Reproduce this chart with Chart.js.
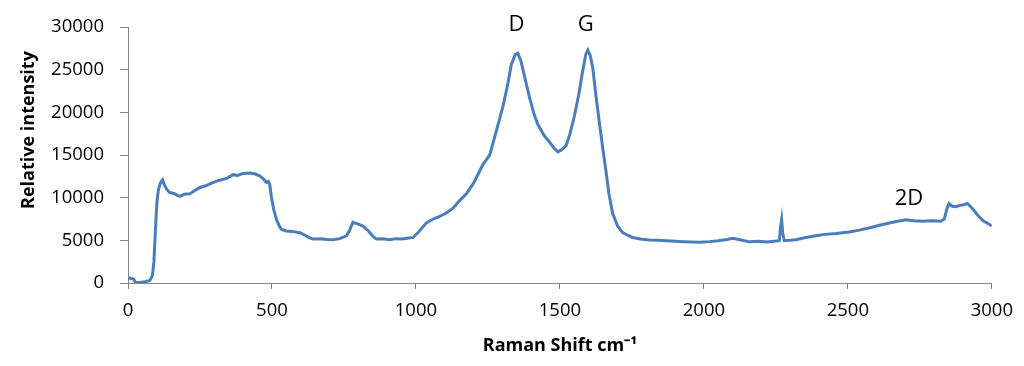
<!DOCTYPE html>
<html>
<head>
<meta charset="utf-8">
<script src="https://cdn.jsdelivr.net/npm/chart.js@4/dist/chart.umd.min.js"></script>
<style>
  html, body { margin: 0; padding: 0; background: #fff; }
  #wrap { width: 1024px; height: 366px; }
</style>
</head>
<body>
<div id="wrap"><canvas id="ramanChart" width="1024" height="366"></canvas></div>
<script>
// Raman shift (cm-1) and intensity
const ramanShift = [0, 8, 15, 20, 25, 40, 60, 76, 85, 90, 95, 100, 105, 110, 115, 120, 125, 134, 145, 160,
    170, 180, 195, 215, 230, 250, 270, 290, 308, 325, 345, 365, 380, 400, 423, 440, 458, 470, 481, 487,
    492, 498, 506, 516, 525, 533, 550, 570, 597, 615, 630, 643, 670, 690, 712, 735, 759, 770, 781, 790,
    800, 816, 835, 850, 863, 885, 909, 930, 950, 970, 990, 1010, 1036, 1060, 1082, 1105, 1128, 1150, 1175, 1200,
    1232, 1256, 1279, 1302, 1320, 1331, 1345, 1354, 1365, 1380, 1394, 1410, 1423, 1445, 1464, 1480, 1493, 1505, 1522, 1535,
    1550, 1565, 1579, 1590, 1597, 1605, 1614, 1625, 1637, 1650, 1660, 1670, 1683, 1700, 1718, 1735, 1752, 1780, 1810, 1840,
    1869, 1900, 1930, 1960, 1984, 2020, 2050, 2080, 2100, 2120, 2157, 2190, 2220, 2262, 2266, 2270, 2274, 2279, 2300, 2319,
    2350, 2389, 2420, 2460, 2504, 2540, 2580, 2620, 2660, 2701, 2730, 2759, 2790, 2822, 2835, 2843, 2851, 2862, 2874, 2890,
    2905, 2915, 2925, 2932, 2945, 2955, 2970, 2985, 3000];

const intensity = [600, 550, 500, 450, 100, 50, 150, 300, 900, 2500, 6000, 9300, 10800, 11500, 11900, 12100, 11600, 11000, 10600, 10500,
    10300, 10150, 10400, 10450, 10800, 11200, 11400, 11700, 11950, 12100, 12300, 12700, 12600, 12850, 12900, 12800, 12540, 12200, 11780, 11900,
    11600, 10080, 8600, 7420, 6700, 6280, 6100, 6050, 5900, 5600, 5300, 5150, 5200, 5100, 5080, 5200, 5530, 6200, 7120, 7000,
    6900, 6670, 6100, 5500, 5150, 5200, 5080, 5200, 5150, 5250, 5340, 6000, 7050, 7500, 7800, 8200, 8750, 9600, 10450, 11700,
    13860, 15000, 17800, 20680, 23500, 25600, 26800, 26930, 25990, 23800, 21820, 19800, 18600, 17300, 16510, 15800, 15380, 15600, 16140, 17500,
    19550, 22000, 24850, 26800, 27310, 26700, 25230, 22000, 18780, 15500, 13100, 10500, 8180, 6700, 5900, 5600, 5340, 5150, 5050, 5000,
    4960, 4900, 4850, 4800, 4770, 4850, 4950, 5100, 5230, 5100, 4850, 4900, 4800, 4960, 6500, 7420, 5800, 4960, 5000, 5080,
    5300, 5530, 5700, 5800, 5980, 6200, 6500, 6850, 7150, 7420, 7300, 7240, 7300, 7240, 7500, 8600, 9320, 9000, 8940, 9100,
    9200, 9320, 9000, 8750, 8200, 7800, 7300, 7000, 6670];

// peak labels and where they sit (data units)
const peakLabels = ['D', 'G', '2D'];
const peakX = [1349, 1590, 2712];
const peakY = [30300, 30300, 9900];

const xTicks = [0, 500, 1000, 1500, 2000, 2500, 3000];
const yTicks = [0, 5000, 10000, 15000, 20000, 25000, 30000];

const xTitle = 'Raman Shift cm⁻¹';
const yTitle = 'Relative intensity';

const axisGrey = '#868686';
const fontFamily = '"Open Sans", "Liberation Sans", sans-serif';

// peak names and axis titles, drawn where Excel put them
const labelPlugin = {
    id: 'peakLabels',
    afterDatasetsDraw(chart) {
        const ctx = chart.ctx;
        const xs = chart.scales.x;
        const ys = chart.scales.y;
        ctx.save();
        ctx.font = '22px ' + fontFamily;
        ctx.fillStyle = '#000';
        ctx.textAlign = 'center';
        ctx.textBaseline = 'middle';
        peakLabels.forEach((label, i) => {
            ctx.fillText(label, xs.getPixelForValue(peakX[i]), ys.getPixelForValue(peakY[i]));
        });

        ctx.font = 'bold 18px ' + fontFamily;
        ctx.fillText(xTitle, (chart.chartArea.left + chart.chartArea.right) / 2, 346);

        ctx.translate(29, 130);
        ctx.rotate(-Math.PI / 2);
        ctx.fillText(yTitle, 0, 0);
        ctx.restore();
    }
};

const ctxRaman = document.getElementById('ramanChart').getContext('2d');
const ramanChart = new Chart(ctxRaman, {
    type: 'line',
    data: {
        datasets: [{
            label: 'Raman spectrum',
            data: ramanShift.map((x, i) => ({ x: x, y: intensity[i] })),
            borderColor: '#4a7ebb',
            borderWidth: 3,
            pointRadius: 0,
            tension: 0,
            fill: false
        }]
    },
    options: {
        responsive: false,
        animation: false,
        layout: {
            padding: { top: 20, right: 31, bottom: 0, left: 0 }
        },
        scales: {
            x: {
                type: 'linear',
                min: 0,
                max: 3000,
                afterBuildTicks: axis => { axis.ticks = xTicks.map(v => ({ value: v })); },
                afterFit: axis => { axis.height = 83; },
                grid: {
                    drawOnChartArea: false,
                    drawTicks: true,
                    tickLength: 6,
                    color: axisGrey
                },
                border: { display: true, color: axisGrey, width: 1 },
                ticks: {
                    color: '#000',
                    padding: 11,
                    maxRotation: 0,
                    font: { family: fontFamily, size: 18.5 },
                    callback: value => String(value)
                }
            },
            y: {
                type: 'linear',
                min: 0,
                max: 30000,
                afterBuildTicks: axis => { axis.ticks = yTicks.map(v => ({ value: v })); },
                afterFit: axis => { axis.width = 128; },
                grid: {
                    drawOnChartArea: false,
                    drawTicks: true,
                    tickLength: 8,
                    color: axisGrey
                },
                border: { display: true, color: axisGrey, width: 1 },
                ticks: {
                    color: '#000',
                    padding: 16,
                    font: { family: fontFamily, size: 18.5 },
                    callback: value => String(value)
                }
            }
        },
        plugins: {
            legend: { display: false },
            tooltip: { enabled: false }
        }
    },
    plugins: [labelPlugin]
});
</script>
</body>
</html>
